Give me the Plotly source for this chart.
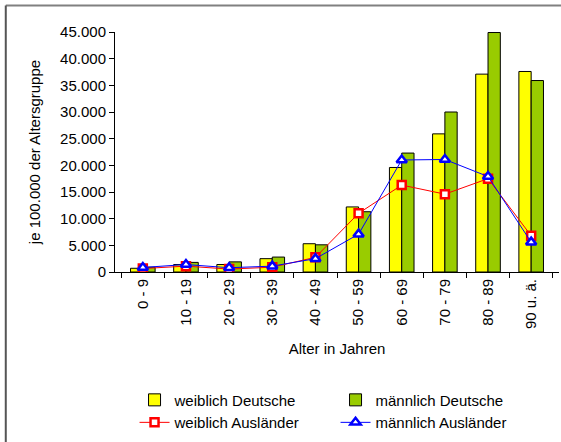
import plotly.graph_objects as go

# Altersgruppen
categories = ['0 - 9', '10 - 19', '20 - 29', '30 - 39', '40 - 49',
              '50 - 59', '60 - 69', '70 - 79', '80 - 89', '90 u. ä.']

# je 100.000 der Altersgruppe (aus dem Bild geschätzt)
weiblich_deutsche = [700, 1400, 1400, 2500, 5300, 12200, 19600, 25900, 37100, 37600]
maennlich_deutsche = [900, 1800, 1900, 2800, 5100, 11300, 22300, 30000, 44900, 35900]
weiblich_auslaender = [650, 1100, 550, 900, 2750, 11000, 16300, 14600, 17500, 6800]
maennlich_auslaender = [850, 1400, 800, 1100, 2500, 7100, 21000, 21100, 17900, 5600]

font = 'Liberation Sans, Arial, sans-serif'

trace1 = go.Bar(x=categories, y=weiblich_deutsche, name='weiblich Deutsche',
                marker=dict(color='#FFFF00', line=dict(color='black', width=1)))
trace2 = go.Bar(x=categories, y=maennlich_deutsche, name='männlich Deutsche',
                marker=dict(color='#99CC00', line=dict(color='black', width=1)))
trace3 = go.Scatter(x=categories, y=weiblich_auslaender, name='weiblich Ausländer',
                    mode='lines+markers', line=dict(color='#FF0000', width=1),
                    marker=dict(symbol='square', size=8, color='white',
                                line=dict(color='#FF0000', width=2.5)))
trace4 = go.Scatter(x=categories, y=maennlich_auslaender, name='männlich Ausländer',
                    mode='lines+markers', line=dict(color='#0000FF', width=1),
                    marker=dict(symbol='triangle-up', size=9, color='white',
                                line=dict(color='#0000FF', width=2.5)))

data = [trace1, trace2, trace3, trace4]

layout = go.Layout(
    width=561, height=442,
    margin=dict(l=115, r=2, t=32, b=170, autoexpand=False),
    paper_bgcolor='white', plot_bgcolor='white',
    font=dict(family=font, size=15, color='black'),
    separators=',.',
    barmode='group', bargap=0.43, bargroupgap=0,
    showlegend=True,
    xaxis=dict(title=dict(text='Alter in Jahren', font=dict(size=15)),
               tickangle=-90, tickson='boundaries', ticks='outside', ticklen=5,
               tickcolor='black', showline=True, linecolor='black', linewidth=1,
               showgrid=False, tickfont=dict(size=15)),
    yaxis=dict(title=dict(text='je 100.000 der Altersgruppe', font=dict(size=15)),
               range=[0, 45000], dtick=5000, tickformat=',d',
               ticks='outside', ticklen=5, tickcolor='black',
               showline=True, linecolor='black', linewidth=1,
               showgrid=False, zeroline=False, tickfont=dict(size=15)),
    legend=dict(orientation='h', x=0.044, xanchor='left', y=-0.465, yanchor='top',
                entrywidth=156, font=dict(size=15), tracegroupgap=0,
                traceorder='normal'),
    shapes=[
        # Rahmen oben (grau) und links (dunkel)
        dict(type='line', xref='paper', yref='paper', x0=-0.246, x1=1.01,
             y0=1.11, y1=1.11, line=dict(color='#808080', width=2)),
        dict(type='line', xref='paper', yref='paper', x0=-0.246, x1=-0.246,
             y0=1.11, y1=-0.75, line=dict(color='#555555', width=2)),
    ],
)

fig = go.Figure(data=data, layout=layout)
fig.write_html('out.html', config={'displayModeBar': False},
               post_script="document.body.style.margin='0';"
                           "document.body.style.overflow='hidden';"
                           "document.documentElement.style.overflow='hidden';")
